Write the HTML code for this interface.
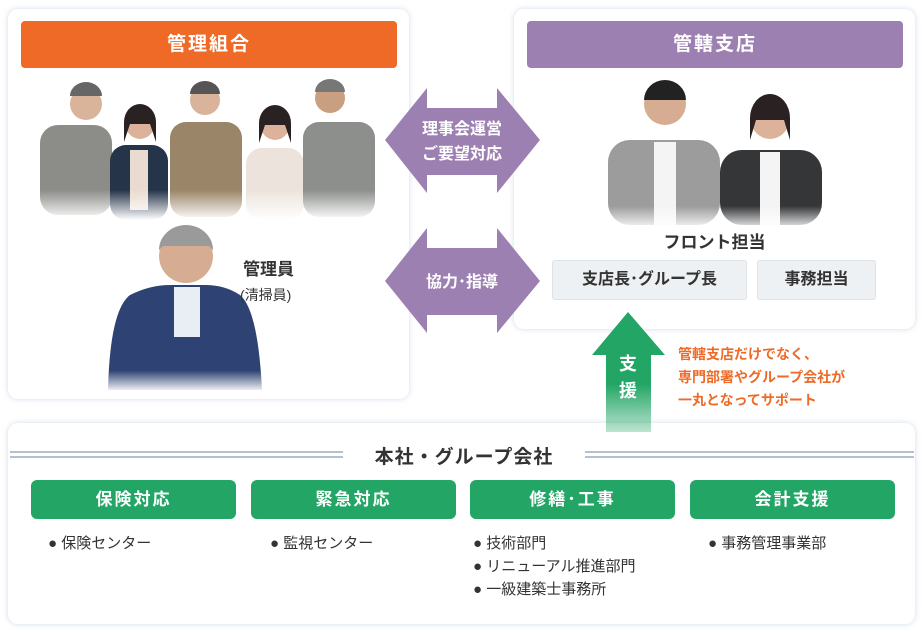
<!DOCTYPE html>
<html><head><meta charset="utf-8"><style>
*{margin:0;padding:0;box-sizing:border-box}
body{width:924px;height:632px;background:#fff;position:relative;overflow:hidden;font-family:"Liberation Sans","Noto Sans CJK JP",sans-serif;color:#333}
.card{position:absolute;background:#fff;border-radius:10px;box-shadow:0 0 6px rgba(120,150,190,.35)}
.abs{position:absolute}
.hd{position:absolute;height:47px;border-radius:4px;color:#fff;font-weight:bold;font-size:19px;text-align:center;line-height:47px;letter-spacing:2px}
.tag{position:absolute;background:#eef1f3;border:1px solid #dde3e7;border-radius:3px;font-weight:bold;font-size:16px;text-align:center;line-height:38px;color:#333}
.gb{position:absolute;top:480px;width:205px;height:39px;background:#22a565;border-radius:6px;color:#fff;font-weight:bold;font-size:17px;text-align:center;line-height:39px;letter-spacing:2px}
.li{position:absolute;font-size:15px;line-height:23px;color:#333}
</style></head><body>
<div class="card" style="left:8px;top:9px;width:401px;height:390px"></div>
<div class="card" style="left:514px;top:9px;width:401px;height:320px"></div>
<div class="card" style="left:8px;top:423px;width:907px;height:201px"></div>

<div class="hd" style="left:21px;top:21px;width:376px;background:#ee6a26">管理組合</div>
<div class="hd" style="left:527px;top:21px;width:376px;background:#9d80b2">管轄支店</div>

<svg class="abs" style="left:0;top:0" width="924" height="632">
<defs>
<linearGradient id="f" x1="0" y1="0" x2="0" y2="1"><stop offset="0.7" stop-color="#fff" stop-opacity="0"/><stop offset="1" stop-color="#fff" stop-opacity="1"/></linearGradient>
<linearGradient id="g" x1="0" y1="0" x2="0" y2="1"><stop offset="0.6" stop-color="#22a565"/><stop offset="1" stop-color="#22a565" stop-opacity="0.3"/></linearGradient>
</defs>
<g>
<rect x="40" y="125" width="72" height="90" rx="18" fill="#8c8c88"/><circle cx="86" cy="104" r="16" fill="#d9b49a"/><path d="M70 96 a16 14 0 0 1 32 0z" fill="#666"/>
<rect x="110" y="145" width="58" height="75" rx="16" fill="#26344a"/><rect x="130" y="150" width="18" height="60" fill="#eadbd0"/><circle cx="140" cy="125" r="14" fill="#dcb39a"/><path d="M124 122 a16 18 0 0 1 32 0 l0 20 -6 -18 h-20 l-6 18z" fill="#2a2222"/>
<rect x="170" y="122" width="72" height="95" rx="16" fill="#9a8568"/><circle cx="205" cy="100" r="15" fill="#d9b49a"/><path d="M190 94 a15 13 0 0 1 30 0z" fill="#555"/>
<rect x="246" y="148" width="58" height="72" rx="16" fill="#ece4dc"/><circle cx="275" cy="126" r="14" fill="#dcb39a"/><path d="M259 123 a16 18 0 0 1 32 0 l0 20 -6 -18 h-20 l-6 18z" fill="#2a2222"/>
<rect x="303" y="122" width="72" height="95" rx="16" fill="#8d8f8c"/><circle cx="330" cy="98" r="15" fill="#c89f80"/><path d="M315 92 a15 13 0 0 1 30 0z" fill="#777"/>
<rect x="30" y="120" width="360" height="100" fill="url(#f)"/>
</g>
<!-- worker -->
<path d="M130 295 Q150 285 170 285 L205 285 Q225 285 240 295 Q258 310 262 390 L108 390 Q110 310 130 295z" fill="#2e4373"/><rect x="174" y="287" width="26" height="50" fill="#e8eef4"/>
<circle cx="186" cy="256" r="27" fill="#d6ad92"/><path d="M159 250 a27 25 0 0 1 54 0 l-4 -4 h-46z" fill="#9a9a9a"/>
<rect x="95" y="320" width="190" height="72" fill="url(#f)"/>
<!-- branch people -->
<rect x="608" y="140" width="112" height="85" rx="22" fill="#9c9c9c"/><rect x="654" y="142" width="22" height="83" fill="#f4f4f4"/><circle cx="665" cy="104" r="21" fill="#d6ad92"/><path d="M644 100 a21 20 0 0 1 42 0z" fill="#222"/>
<rect x="720" y="150" width="102" height="75" rx="22" fill="#343638"/><rect x="760" y="152" width="20" height="73" fill="#f4f4f4"/><circle cx="770" cy="120" r="19" fill="#dcb39a"/><path d="M750 118 a20 24 0 0 1 40 0 l0 22 -6 -20 h-28 l-6 20z" fill="#2a2222"/>
<rect x="600" y="150" width="230" height="80" fill="url(#f)"/>
<polygon points="385,140 427,88 427,108 497,108 497,88 540,140 497,193 497,175 427,175 427,193" fill="#9d80b2"/>
<polygon points="385,281 427,228 427,248 497,248 497,228 540,281 497,333 497,315 427,315 427,333" fill="#9d80b2"/>
<text x="462" y="134" fill="#fff" font-size="16" font-weight="bold" text-anchor="middle">理事会運営</text>
<text x="462" y="159" fill="#fff" font-size="16" font-weight="bold" text-anchor="middle">ご要望対応</text>
<text x="462" y="287" fill="#fff" font-size="16" font-weight="bold" text-anchor="middle">協力･指導</text>
<polygon points="628,312 665,355 651,355 651,432 606,432 606,355 592,355" fill="url(#g)"/>
<text x="628" y="370" fill="#fff" font-size="18" font-weight="bold" text-anchor="middle">支</text>
<text x="628" y="397" fill="#fff" font-size="18" font-weight="bold" text-anchor="middle">援</text>
<g stroke="#b4c0cc" stroke-width="2"><line x1="10" y1="452" x2="343" y2="452"/><line x1="10" y1="457" x2="343" y2="457"/><line x1="585" y1="452" x2="914" y2="452"/><line x1="585" y1="457" x2="914" y2="457"/></g>
</svg>

<div class="abs" style="left:243px;top:259px;font-size:17px;font-weight:bold;line-height:22px">管理員</div>
<div class="abs" style="left:240px;top:285px;font-size:14px;line-height:20px">(清掃員)</div>
<div class="abs" style="left:514px;top:228px;width:401px;text-align:center;font-size:17px;font-weight:bold">フロント担当</div>
<div class="tag" style="left:552px;top:260px;width:195px;height:40px">支店長･グループ長</div>
<div class="tag" style="left:757px;top:260px;width:119px;height:40px">事務担当</div>
<div class="abs" style="left:678px;top:343px;font-size:14px;font-weight:bold;color:#ee6a26;line-height:23px">管轄支店だけでなく、<br>専門部署やグループ会社が<br>一丸となってサポート</div>

<div class="abs" style="left:343px;top:442px;width:242px;text-align:center;font-size:19px;font-weight:bold;letter-spacing:1px">本社・グループ会社</div>
<div class="gb" style="left:31px">保険対応</div>
<div class="gb" style="left:251px">緊急対応</div>
<div class="gb" style="left:470px">修繕･工事</div>
<div class="gb" style="left:690px">会計支援</div>
<div class="li" style="left:48px;top:532px">● 保険センター</div>
<div class="li" style="left:270px;top:532px">● 監視センター</div>
<div class="li" style="left:473px;top:532px">● 技術部門<br>● リニューアル推進部門<br>● 一級建築士事務所</div>
<div class="li" style="left:708px;top:532px">● 事務管理事業部</div>
</body></html>
